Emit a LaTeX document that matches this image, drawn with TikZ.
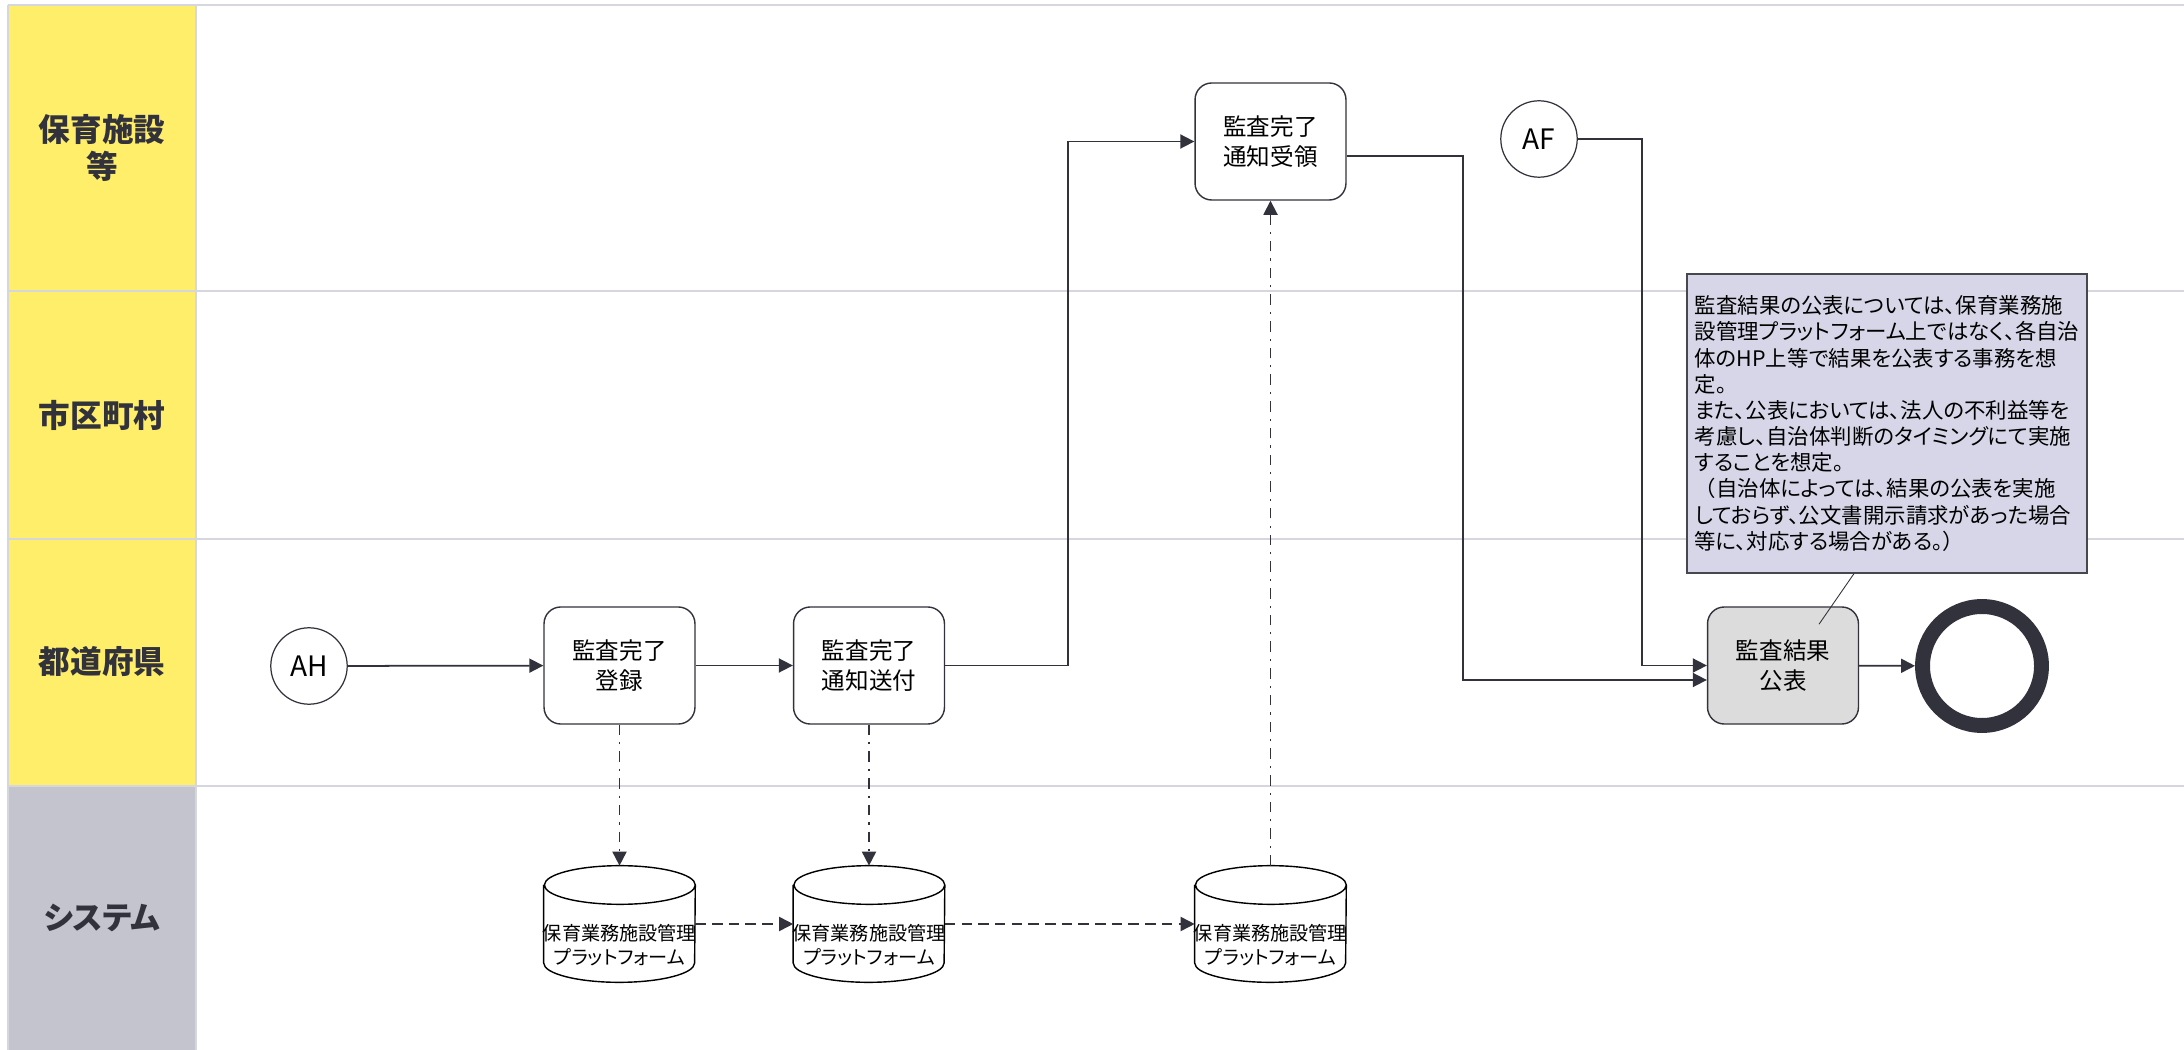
\documentclass[tikz,border=0pt]{standalone}
\usepackage{fontspec}
\setmainfont{Noto Sans CJK JP}[RawFeature=+palt]
\usepackage{tikz}
\usetikzlibrary{arrows.meta}
\definecolor{lanebg}{RGB}{255,238,106}
\definecolor{sysbg}{RGB}{196,196,206}
\definecolor{laneline}{RGB}{214,214,222}
\definecolor{inkdark}{RGB}{50,50,60}
\definecolor{notebg}{RGB}{214,214,232}
\definecolor{pubbg}{RGB}{220,220,220}

\tikzset{
  lanelabel/.style={align=center, text=inkdark, font=\fontsize{18}{21}\selectfont\bfseries},
  task/.style={draw=inkdark, line width=0.8pt, rounded corners=9.5pt, fill=white,
    minimum width=85.9pt, minimum height=66.6pt, align=center,
    font=\fontsize{13.4}{17}\selectfont},
  event/.style={circle, draw=inkdark, line width=0.7pt, fill=white, minimum size=43.5pt,
    inner sep=0pt, font=\fontsize{16}{18}\selectfont},
  finishevent/.style={circle, draw=inkdark, line width=8.5pt, fill=white,
    minimum size=67.7pt, inner sep=0pt},
  store/.style={minimum width=85.9pt, minimum height=66pt, inner sep=0pt},
  storetext/.style={align=center, inner sep=0pt, font=\fontsize{10.9}{14}\selectfont},
  storeline/.style={draw=black, line width=0.8pt},
  notebox/.style={draw=inkdark!90, line width=0.8pt, fill=notebg, align=left,
    minimum width=227.6pt, minimum height=170.1pt, font=\fontsize{12.2}{14.9}\selectfont},
  flow/.style={draw=inkdark, line width=1pt, -{Triangle[length=8pt,width=8pt]}},
  dataflow/.style={flow, dash pattern=on 6pt off 4pt on 1.2pt off 4pt},
  syncflow/.style={flow, dash pattern=on 6pt off 3.5pt},
}

\begin{document}
\begin{tikzpicture}[x=0.02cm, y=-0.02cm]
  \def\colL{8}
  \def\colR{196}
  \def\W{2184}
  \def\H{1050}
  \def\rx{42.95pt}
  \def\ry{11pt}

  \useasboundingbox[fill=white] (0,0) rectangle (\W,\H);

  % swim lanes
  \fill[lanebg] (\colL,5) rectangle (\colR,786);
  \fill[sysbg] (\colL,786) rectangle (\colR,\H);
  \foreach \y in {5,291,539,786} {
    \draw[laneline, line width=1.5pt] (\colL,\y) -- (\W,\y);
  }
  \foreach \x in {\colL,\colR} {
    \draw[laneline, line width=1.5pt] (\x,5) -- (\x,\H);
  }
  \node[lanelabel] (facility) at (102,148) {保育施設\\等};
  \node[lanelabel] (city) at (102,415) {市区町村};
  \node[lanelabel] (pref) at (102,662) {都道府県};
  \node[lanelabel] (system) at (102,918) {システム};

  % tasks
  \node[event] (ah) at (309,666) {AH};
  \node[task] (reg) at (619.5,665.5) {監査完了\\登録};
  \node[task] (send) at (869,665.5) {監査完了\\通知送付};
  \node[task] (recv) at (1270.5,141.5) {監査完了\\通知受領};
  \node[event] (af) at (1539,139) {AF};
  \node[task, fill=pubbg] (pub) at (1783,665.5) {監査結果\\公表};
  \node[finishevent] (finish) at (1982,666) {};

  % platform stores
  \foreach \n/\x in {db1/619.5, db2/869, db3/1270.5} {
    \node[store] (\n) at (\x,924) {};
    \node[storetext] at ([yshift=-12pt]\n.center) {保育業務施設管理\\プラットフォーム};
    \draw[storeline] ([yshift=-\ry]\n.north west) -- ([yshift=\ry]\n.south west)
      arc[start angle=180, end angle=360, x radius=\rx, y radius=\ry]
      -- ([yshift=-\ry]\n.north east)
      arc[start angle=0, end angle=180, x radius=\rx, y radius=\ry]
      arc[start angle=180, end angle=360, x radius=\rx, y radius=\ry];
  }

  \node[notebox] (note) at (1887,423.5) {監査結果の公表については、保育業務施\\設管理プラットフォーム上ではなく、各自治\\体のHP上等で結果を公表する事務を想\\定。\\また、公表においては、法人の不利益等を\\考慮し、自治体判断のタイミングにて実施\\することを想定。\\{\addfontfeature{RawFeature=-palt}（}自治体によっては、結果の公表を実施\\しておらず、公文書開示請求があった場合\\等に、対応する場合がある。）};

  \coordinate (bendA) at (1068,0);
  \coordinate (bendB) at (1463,0);
  \coordinate (bendC) at (1642,0);

  \draw[flow] (ah) -- (reg);
  \draw[flow] (reg) -- (send);
  \draw[flow] (send.east) -- (send.east -| bendA) |- (recv.west);
  \draw[flow] ([yshift=-8.25pt]recv.east) -- ([yshift=-8.25pt]recv.east -| bendB) |- ([yshift=-8.25pt]pub.west);
  \draw[flow] (af.east) -- (af.east -| bendC) |- (pub.west);
  \draw[flow] (pub) -- (finish);

  \draw[dataflow] (reg) -- (db1);
  \draw[dataflow] (send) -- (db2);
  \draw[dataflow] (db3) -- (recv);
  \draw[syncflow] (db1) -- (db2);
  \draw[syncflow] (db2) -- (db3);

  \draw[inkdark, line width=0.5pt] ([xshift=-18.8pt]note.south) -- ([xshift=20.5pt,yshift=-10.2pt]pub.north);
\end{tikzpicture}
\end{document}
